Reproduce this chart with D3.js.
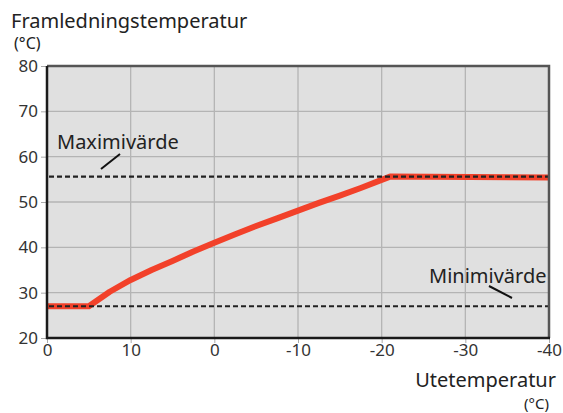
<!DOCTYPE html>
<html><head><meta charset="utf-8">
<script src="https://cdn.jsdelivr.net/npm/d3@7"></script>
<style>body{margin:0;background:#fff}svg{display:block}text{font-family:"Noto Sans",sans-serif}</style>
</head><body><svg id="c" width="563" height="413"></svg>
<script>
const xTicks = [20, 10, 0, -10, -20, -30, -40];
const xTickLabels = ["0", "10", "0", "-10", "-20", "-30", "-40"];
const yTicks = [20, 30, 40, 50, 60, 70, 80];
const curveX = [20, 15, 12.5, 10, 7.5, 5, 2.5, 0, -2.5, -5, -7.5, -10, -12.5, -15, -17.5, -21, -40];
const curveY = [27, 27, 30.2, 32.8, 35, 37, 39.1, 41, 42.9, 44.7, 46.4, 48.1, 49.8, 51.4, 53.1, 55.6, 55.4];
const maxValue = 55.6;
const minValue = 27;
const labels = {yTitle: "Framledningstemperatur", yUnit: "(°C)", xTitle: "Utetemperatur", xUnit: "(°C)", max: "Maximivärde", min: "Minimivärde"};

const svg = d3.select("#c");
const L = 47, R = 549, T = 66, B = 338;
const x = d3.scaleLinear().domain([20, -40]).range([L, R]);
const y = d3.scaleLinear().domain([20, 80]).range([B, T]);

svg.append("rect").attr("x", L).attr("y", T).attr("width", R - L).attr("height", B - T).attr("fill", "#e0e0e0");

// grid
svg.append("g").selectAll("line").data(xTicks.slice(1, -1)).join("line")
  .attr("x1", d => x(d)).attr("x2", d => x(d)).attr("y1", T).attr("y2", B)
  .attr("stroke", "#b4b4b4").attr("stroke-width", 1.3);
svg.append("g").selectAll("line").data(yTicks.slice(1, -1)).join("line")
  .attr("x1", L).attr("x2", R).attr("y1", d => y(d)).attr("y2", d => y(d))
  .attr("stroke", "#b4b4b4").attr("stroke-width", 1.3);

// axes
const yAxis = svg.append("g").attr("transform", `translate(${L},0)`)
  .call(d3.axisLeft(y).tickValues(yTicks).tickSize(6).tickPadding(3));
yAxis.select(".domain").remove();
yAxis.selectAll("line").attr("stroke", "#aaa");
yAxis.selectAll("text").attr("font-size", 17).attr("fill", "#333").attr("font-family", "Noto Sans");

const xAxis = svg.append("g").attr("transform", `translate(0,${B})`)
  .call(d3.axisBottom(x).tickValues(xTicks).tickFormat((d, i) => xTickLabels[i]).tickSize(5).tickPadding(1));
xAxis.select(".domain").remove();
xAxis.selectAll("line").attr("stroke", "#aaa");
xAxis.selectAll("text").attr("font-size", 17).attr("fill", "#333").attr("font-family", "Noto Sans");

// curve
const pts = curveX.map((d, i) => [d, curveY[i]]);
svg.append("path").datum(pts)
  .attr("d", d3.line().x(d => x(d[0])).y(d => y(d[1])))
  .attr("fill", "none").attr("stroke", "#f2412a").attr("stroke-width", 6).attr("stroke-linejoin", "round");

// dashed limits
[maxValue, minValue].forEach(v => {
  svg.append("line").attr("x1", L + 2).attr("x2", R).attr("y1", y(v)).attr("y2", y(v))
    .attr("stroke", "#222").attr("stroke-width", 2.2).attr("stroke-dasharray", "5,3");
});

// frame
svg.append("path").attr("d", `M${L},${T}H${R}V${B}`).attr("fill", "none").attr("stroke", "#555").attr("stroke-width", 2.5);
svg.append("path").attr("d", `M${L},${T}V${B}H${R + 1}`).attr("fill", "none").attr("stroke", "#1a1a1a").attr("stroke-width", 2.5);

// annotations
svg.append("text").attr("x", 57).attr("y", 149).attr("font-size", 20).attr("fill", "#222").text(labels.max);
svg.append("line").attr("x1", 101).attr("y1", 169).attr("x2", 120).attr("y2", 154).attr("stroke", "#111").attr("stroke-width", 2);
svg.append("text").attr("x", 429).attr("y", 283).attr("font-size", 20).attr("fill", "#222").text(labels.min);
svg.append("line").attr("x1", 489).attr("y1", 286).attr("x2", 512).attr("y2", 298).attr("stroke", "#111").attr("stroke-width", 2);

// titles
svg.append("text").attr("x", 11).attr("y", 28).attr("font-size", 20).attr("fill", "#222").text(labels.yTitle);
svg.append("text").attr("x", 14).attr("y", 49).attr("font-size", 16).attr("fill", "#222").text(labels.yUnit);
svg.append("text").attr("x", 556).attr("y", 387).attr("text-anchor", "end").attr("font-size", 20).attr("fill", "#222").text(labels.xTitle);
svg.append("text").attr("x", 549).attr("y", 409).attr("text-anchor", "end").attr("font-size", 15).attr("fill", "#222").text(labels.xUnit);
</script></body></html>
